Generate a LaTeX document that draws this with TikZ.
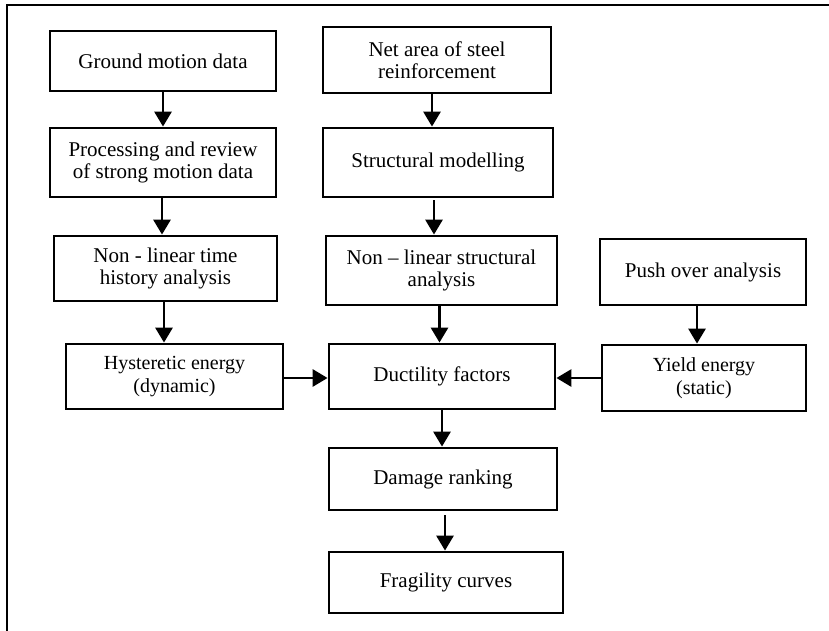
\documentclass[tikz,border=0pt]{standalone}
\usepackage{fontspec}
\setmainfont{Liberation Serif}
\usetikzlibrary{arrows.meta}
\begin{document}
\begin{tikzpicture}[x=1pt,y=-1pt,
  box/.style={draw,line width=2.8pt,rectangle,inner sep=0pt,align=center,
    font=\fontsize{21}{22.5}\selectfont},
  arr/.style={line width=2.8pt,-{Triangle[length=15pt,width=17pt]}},
  frame/.style={line width=2.6pt}]
\useasboundingbox (0,0) rectangle (829,631);
\draw[frame] (829,5) -- (7,5) -- (7,631);
\node[box,minimum width=226pt,minimum height=60pt] (gm) at (163,61) {Ground motion data};
\node[box,minimum width=226pt,minimum height=69pt] (proc) at (163,162.5) {Processing and review\\of strong motion data};
\node[box,minimum width=223pt,minimum height=65pt] (nlth) at (165.5,268.5) {Non - linear time\\history analysis};
\node[box,minimum width=228pt,minimum height=66pt] (net) at (437,60) {Net area of steel\\reinforcement};
\node[box,minimum width=230pt,minimum height=69pt] (strm) at (438,162.5) {Structural modelling};
\node[box,minimum width=231pt,minimum height=69pt] (nls) at (441.5,270.5) {Non -- linear structural\\analysis};
\node[box,minimum width=206pt,minimum height=66pt] (push) at (703,272) {Push over analysis};
\node[box,minimum width=217pt,minimum height=65pt,font=\fontsize{20}{22.5}\selectfont] (hyst) at (174.5,376.5) {Hysteretic energy\\(dynamic)};
\node[box,minimum width=226pt,minimum height=65pt] (duct) at (442,376.5) {Ductility factors};
\node[box,minimum width=204pt,minimum height=66pt,font=\fontsize{20}{22.5}\selectfont] (yield) at (704,378) {Yield energy\\(static)};
\node[box,minimum width=228pt,minimum height=62pt] (dmg) at (443,479) {Damage ranking};
\node[box,minimum width=234pt,minimum height=61pt] (frag) at (446,582.5) {Fragility curves};
\draw[arr] (gm.south) -- (proc.north);
\draw[arr] ([xshift=-1pt]proc.south) -- ([xshift=-1pt]proc.south |- nlth.north);
\draw[arr] ([xshift=-1.5pt]nlth.south) -- ([xshift=-1.5pt]nlth.south |- hyst.north);
\draw[arr] ([xshift=-5pt]net.south) -- ([xshift=-5pt]net.south |- strm.north);
\draw[arr] ([xshift=-4pt,yshift=-2pt]strm.south) -- ([xshift=-4pt]strm.south |- nls.north);
\draw[arr] ([xshift=-2pt]nls.south) -- ([xshift=-2pt]nls.south |- duct.north);
\draw[arr] ([xshift=-6pt]push.south) -- ([xshift=-6pt]push.south |- yield.north);
\draw[arr] ([yshift=-1.5pt]hyst.east) -- ([yshift=-1.5pt]hyst.east -| duct.west);
\draw[arr] (yield.west) -- (yield.west -| duct.east);
\draw[arr] (duct.south) -- (duct.south |- dmg.north);
\draw[arr] ([xshift=2pt,yshift=-4pt]dmg.south) -- ([xshift=2pt]dmg.south |- frag.north);
\end{tikzpicture}
\end{document}
